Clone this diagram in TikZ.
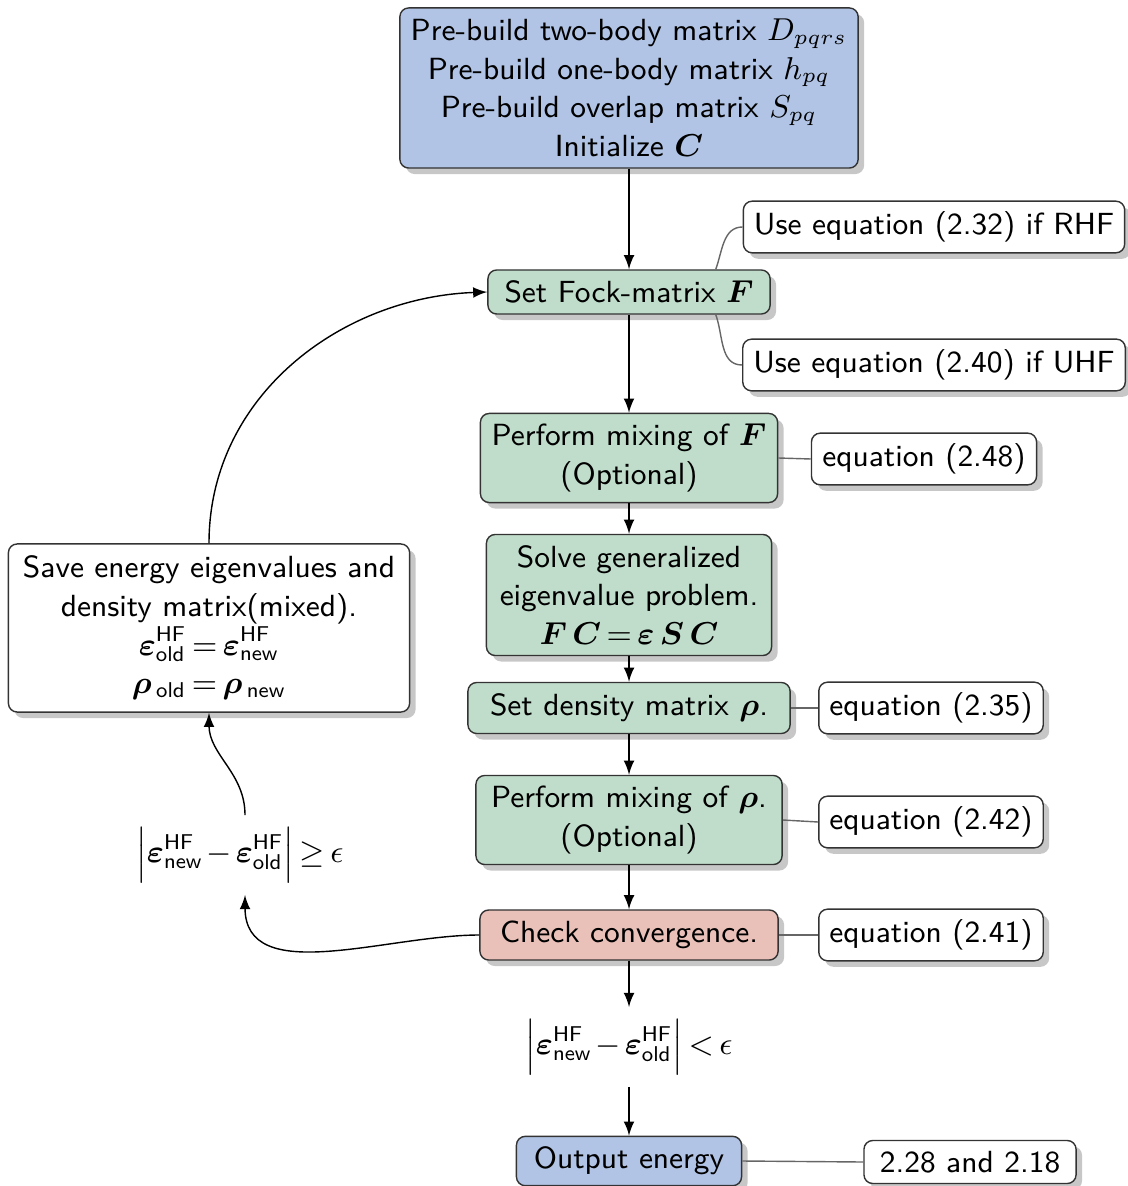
\documentclass[tikz,border=0pt]{standalone}
\usepackage{amsmath, amssymb}
\usepackage{bm}
\usepackage{xcolor}
\usepackage{tikz}
\usetikzlibrary{shadows, positioning}

\definecolor{nenxanh}{HTML}{B1C4E5}
\definecolor{nenluc}{HTML}{C0DDCB}
\definecolor{nendo}{HTML}{E9C1B9}

\begin{document}
\begin{tikzpicture}[>={latex[scale=1.3]}, x=0.01cm, y=0.01cm,
    font={\sffamily\fontsize{8.7}{11}\selectfont\medmuskip=2mu\thickmuskip=3mu},
    khoi/.style={draw=black!80, rounded corners=2.5pt, align=center, inner sep=3pt,
        drop shadow={shadow xshift=0.06cm, shadow yshift=-0.06cm, fill=black!22, opacity=1}},
    ghichu/.style={khoi, fill=white, minimum height=0.5cm},
    noi/.style={draw=black!60}]
    \useasboundingbox (0,0) rectangle (1127,-1186);

    % Các khối chính
    \node[khoi, fill=nenxanh, minimum width=4.58cm, minimum height=1.6cm] (dau) at (629,-88)
        {Pre-build two-body matrix $D_{pqrs}$\\ Pre-build one-body matrix $h_{pq}$\\
         Pre-build overlap matrix $S_{pq}$\\ Initialize $\bm{C}$};
    \node[khoi, fill=nenluc, minimum width=2.82cm, minimum height=0.44cm] (fock) at (629,-292)
        {Set Fock-matrix $\bm{F}$};
    \node[khoi, fill=nenluc, minimum width=2.97cm, minimum height=0.89cm] (tronF) at (629,-458)
        {Perform mixing of $\bm{F}$\\ (Optional)};
    \node[khoi, fill=nenluc, minimum width=2.85cm, minimum height=1.21cm] (giai) at (629,-595)
        {Solve generalized\\ eigenvalue problem.\\ $\bm{F}\,\bm{C}=\bm{\varepsilon}\,\bm{S}\,\bm{C}$};
    \node[khoi, fill=nenluc, minimum width=3.22cm, minimum height=0.51cm] (mat) at (629,-708)
        {Set density matrix $\bm{\rho}$.};
    \node[khoi, fill=nenluc, minimum width=3.06cm, minimum height=0.89cm] (tronR) at (629,-820)
        {Perform mixing of $\bm{\rho}$.\\ (Optional)};
    \node[khoi, fill=nendo, minimum width=2.98cm, minimum height=0.5cm] (hoitu) at (629,-935)
        {Check convergence.};
    \node (nho) at (629,-1047)
        {$\left|\bm{\varepsilon}^{\textsf{HF}}_{\textsf{new}}-\bm{\varepsilon}^{\textsf{HF}}_{\textsf{old}}\right|<\epsilon$};
    \node[khoi, fill=nenxanh, minimum width=2.25cm, minimum height=0.49cm] (ketqua) at (629,-1161)
        {Output energy};

    % Vòng lặp bên trái
    \node[khoi, fill=white, minimum width=4.01cm, minimum height=1.68cm] (luu) at (209,-628)
        {Save energy eigenvalues and\\ density matrix(mixed).\\
         $\bm{\varepsilon}^{\textsf{HF}}_{\textsf{old}}=\bm{\varepsilon}^{\textsf{HF}}_{\textsf{new}}$\\
         $\bm{\rho}_{\,\textsf{old}}=\bm{\rho}_{\,\textsf{new}}$};
    \node (lon) at (240,-855)
        {$\left|\bm{\varepsilon}^{\textsf{HF}}_{\textsf{new}}-\bm{\varepsilon}^{\textsf{HF}}_{\textsf{old}}\right|\geq\epsilon$};

    % Ghi chú phương trình
    \node[ghichu, minimum width=3.81cm] (rhf) at (934,-227) {Use equation (2.32) if RHF};
    \node[ghichu, minimum width=3.81cm] (uhf) at (934,-365) {Use equation (2.40) if UHF};
    \node[ghichu, minimum width=2.25cm] (pt248) at (924,-459) {equation (2.48)};
    \node[ghichu, minimum width=2.23cm, minimum height=0.51cm] (pt235) at (931,-708) {equation (2.35)};
    \node[ghichu, minimum width=2.23cm] (pt242) at (931,-822) {equation (2.42)};
    \node[ghichu, minimum width=2.23cm] (pt241) at (931,-935) {equation (2.41)};
    \node[ghichu, minimum width=2.12cm, minimum height=0.41cm] (pt228) at (970,-1162) {2.28 and 2.18};

    % Mũi tên
    \draw[->] (dau) -- (fock);
    \foreach \a/\b in {fock/tronF, tronF/giai, giai/mat, mat/tronR, tronR/hoitu, hoitu/nho, nho/ketqua}
        \draw[->] (\a) -- (\b);
    \draw[->] (hoitu.west) to[out=180, in=-90] ([xshift=0.05cm]lon.south);
    \draw[->] ([xshift=0.05cm]lon.north) to[out=90, in=-90] (luu.south);
    \draw[->] (luu.north) to[out=90, in=182] (fock.west);

    % Đường nối ghi chú
    \draw[noi] ([xshift=-0.55cm]fock.north east) to[out=70, in=180] (rhf.west);
    \draw[noi] ([xshift=-0.55cm]fock.south east) to[out=-70, in=180] (uhf.west);
    \draw[noi] (tronF.east) -- (pt248.west);
    \draw[noi] (mat.east) -- (pt235.west);
    \draw[noi] (tronR.east) -- (pt242.west);
    \draw[noi] (hoitu.east) -- (pt241.west);
    \draw[noi] (ketqua.east) -- (pt228.west);
\end{tikzpicture}
\end{document}
